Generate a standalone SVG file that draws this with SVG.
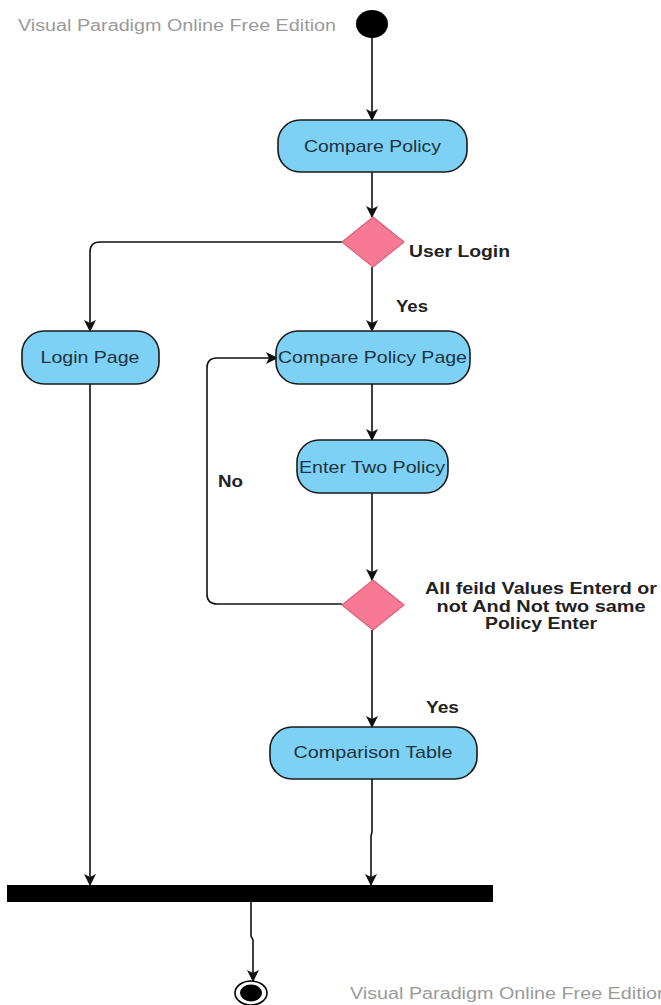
<svg xmlns="http://www.w3.org/2000/svg" width="661" height="1005" viewBox="0 0 661 1005">
  <style>
    .act { fill: #7dd1f4; stroke: #1a1a1a; stroke-width: 1.6; }
    .act-text { font-family: "Liberation Sans", Arial, sans-serif; font-size: 17px; fill: #1d3340; text-anchor: middle; }
    .dec { fill: #f87993; stroke: #d8627c; stroke-width: 1.2; }
    .lbl { font-family: "Liberation Sans", Arial, sans-serif; font-size: 16px; font-weight: bold; fill: #222; }
    .wm { font-family: "Liberation Sans", Arial, sans-serif; font-size: 16px; fill: #9a9a9a; }
    .flow { fill: none; stroke: #111; stroke-width: 1.6; marker-end: url(#arrow); }
  </style>
  <defs>
    <marker id="arrow" viewBox="0 0 12 12" refX="11" refY="6" markerWidth="12" markerHeight="12" markerUnits="userSpaceOnUse" orient="auto">
      <path d="M0,0 L12,6 L0,12 L3,6 z" fill="#111"/>
    </marker>
  </defs>

  <rect width="661" height="1005" fill="#ffffff"/>

  <!-- watermarks -->
  <text class="wm" x="18" y="31" textLength="318" lengthAdjust="spacingAndGlyphs">Visual Paradigm Online Free Edition</text>
  <text class="wm" x="350" y="999" textLength="318" lengthAdjust="spacingAndGlyphs">Visual Paradigm Online Free Edition</text>

  <!-- connectors -->
  <g id="connectors">
    <path class="flow" d="M372,38 L372,120"/>
    <path class="flow" d="M372,172 L372,217"/>
    <path class="flow" d="M343,242 L100,242 Q90,242 90,252 L90,331"/>
    <path class="flow" d="M372,267 L372,331"/>
    <path class="flow" d="M372,384 L372,440"/>
    <path class="flow" d="M372,493 L372,580"/>
    <path class="flow" d="M342,604 L217,604 Q207,604 207,594 L207,368 Q207,358 217,358 L277,358"/>
    <path class="flow" d="M372,630 L372,727"/>
    <path class="flow" d="M90,384 L90,885"/>
    <path class="flow" d="M372,779 L372,832 L371,836 L371,885"/>
    <path class="flow" d="M251,902 L251,936 L253,940 L253,981"/>
  </g>

  <!-- start -->
  <g id="start">
    <ellipse cx="372" cy="24" rx="16" ry="14" fill="#000"/>
  </g>

  <g id="compare-policy">
    <rect class="act" x="278" y="120" width="189" height="52" rx="22"/>
    <text class="act-text" x="372.5" y="152" textLength="137" lengthAdjust="spacingAndGlyphs">Compare Policy</text>
  </g>

  <g id="user-login">
    <polygon class="dec" points="373,217 404,242 373,267 342,242"/>
    <text class="lbl" x="409" y="257" textLength="101" lengthAdjust="spacingAndGlyphs">User Login</text>
  </g>

  <text class="lbl" x="396" y="312" textLength="32" lengthAdjust="spacingAndGlyphs">Yes</text>

  <g id="login-page">
    <rect class="act" x="22" y="331" width="137" height="53" rx="22"/>
    <text class="act-text" x="90" y="363" textLength="99" lengthAdjust="spacingAndGlyphs">Login Page</text>
  </g>

  <g id="compare-policy-page">
    <rect class="act" x="276" y="331" width="194" height="53" rx="22"/>
    <text class="act-text" x="372.5" y="363" textLength="189" lengthAdjust="spacingAndGlyphs">Compare Policy Page</text>
  </g>

  <g id="enter-two-policy">
    <rect class="act" x="297" y="440" width="151" height="53" rx="22"/>
    <text class="act-text" x="372" y="473" textLength="146" lengthAdjust="spacingAndGlyphs">Enter Two Policy</text>
  </g>

  <text class="lbl" x="218" y="487" textLength="25" lengthAdjust="spacingAndGlyphs">No</text>

  <g id="validation">
    <polygon class="dec" points="373,580 404,605 373,630 342,605"/>
    <text class="lbl" x="541" y="594" text-anchor="middle" textLength="232" lengthAdjust="spacingAndGlyphs">All feild Values Enterd or</text>
    <text class="lbl" x="541" y="612" text-anchor="middle" textLength="209" lengthAdjust="spacingAndGlyphs">not And Not two same</text>
    <text class="lbl" x="541" y="629" text-anchor="middle" textLength="112" lengthAdjust="spacingAndGlyphs">Policy Enter</text>
  </g>

  <text class="lbl" x="426" y="713" textLength="33" lengthAdjust="spacingAndGlyphs">Yes</text>

  <g id="comparison-table">
    <rect class="act" x="270" y="727" width="207" height="52" rx="22"/>
    <text class="act-text" x="373" y="758" textLength="159" lengthAdjust="spacingAndGlyphs">Comparison Table</text>
  </g>

  <g id="join">
    <rect x="7" y="885" width="486" height="17" fill="#000"/>
  </g>

  <g id="end">
    <ellipse cx="251" cy="993" rx="16" ry="12" fill="#fff" stroke="#000" stroke-width="1.6"/>
    <ellipse cx="251" cy="993" rx="11" ry="8.5" fill="#000"/>
  </g>
</svg>
